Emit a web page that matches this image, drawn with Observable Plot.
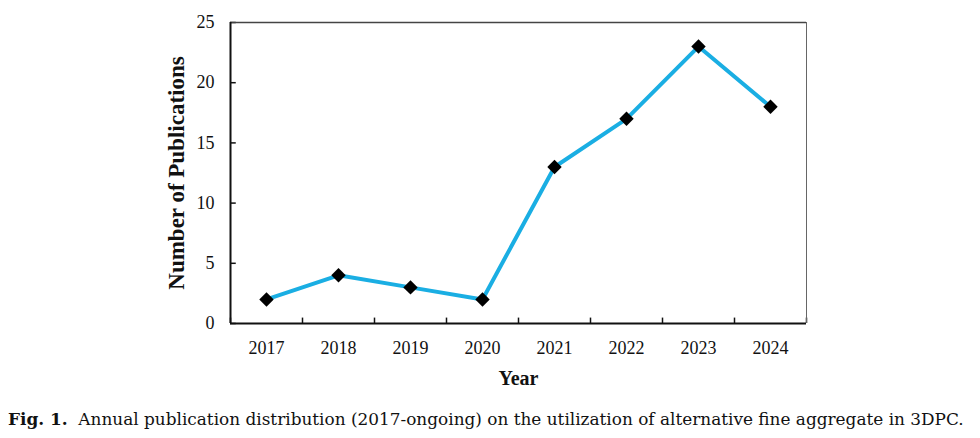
<!DOCTYPE html>
<html>
<head>
<meta charset="utf-8">
<script src="https://cdn.jsdelivr.net/npm/d3@7"></script>
<script src="https://cdn.jsdelivr.net/npm/@observablehq/plot@0.6"></script>
<style>
  html, body { margin: 0; padding: 0; background: #fff; }
  #chart svg { display: block; }
  #caption { font-family: "DejaVu Serif", serif; font-size: 16.9px; color: #111; margin: 17px 0 0 8px; white-space: nowrap; }
  #caption b { font-weight: bold; }
</style>
</head>
<body>
<div id="chart"></div>
<div id="caption"><b>Fig. 1.</b>&nbsp; Annual publication distribution (2017-ongoing) on the utilization of alternative fine aggregate in 3DPC.</div>
<script>
const years = [2017, 2018, 2019, 2020, 2021, 2022, 2023, 2024];
const publications = [2, 4, 3, 2, 13, 17, 23, 18];
const yTicks = [0, 5, 10, 15, 20, 25];

const data = years.map((y, i) => ({year: y, value: publications[i]}));
const xMin = years[0] - 0.5, xMax = years[years.length - 1] + 0.5;
const boundaries = years.map(y => y - 0.5).concat([xMax]);

const chart = Plot.plot({
  width: 980,
  height: 392,
  marginLeft: 230,
  marginRight: 174,
  marginTop: 22,
  marginBottom: 69,
  style: {fontFamily: "'Liberation Serif', 'Times New Roman', serif", fontSize: "18px", color: "#111"},
  x: {domain: [xMin, xMax]},
  y: {domain: [0, 25]},
  marks: [
    Plot.ruleX(boundaries, {x: d => d, y1: 0, y2: 0.45, stroke: "#111", strokeWidth: 1.5}),
    Plot.ruleY(yTicks, {y: d => d, x1: xMin, x2: xMin + 0.08, stroke: "#111", strokeWidth: 1.5}),
    Plot.ruleY([25], {stroke: "#444", strokeWidth: 1.5}),
    Plot.ruleX([xMax], {stroke: "#666", strokeWidth: 1}),
    Plot.ruleX([xMin], {stroke: "#111", strokeWidth: 2}),
    Plot.ruleY([0], {stroke: "#111", strokeWidth: 2}),
    Plot.axisX({ticks: years, tickSize: 0, tickPadding: 18, tickFormat: d => String(d), label: null, fontSize: 18}),
    Plot.axisY({ticks: yTicks, tickSize: 0, tickPadding: 16, label: null, fontSize: 18}),
    Plot.line(data, {x: "year", y: "value", stroke: "#1aaee3", strokeWidth: 4}),
    Plot.dot(data, {x: "year", y: "value", symbol: "diamond2", r: 6.5, fill: "#000", stroke: "none"}),
    Plot.text(["Year"], {frameAnchor: "bottom", dy: 61, fontWeight: "bold", fontSize: 20, fill: "#111"}),
    Plot.text(["Number of Publications"], {frameAnchor: "left", dx: -54, rotate: -90, textAnchor: "middle", fontWeight: "bold", fontSize: 23, fill: "#111"})
  ]
});
document.getElementById("chart").appendChild(chart);
</script>
</body>
</html>
